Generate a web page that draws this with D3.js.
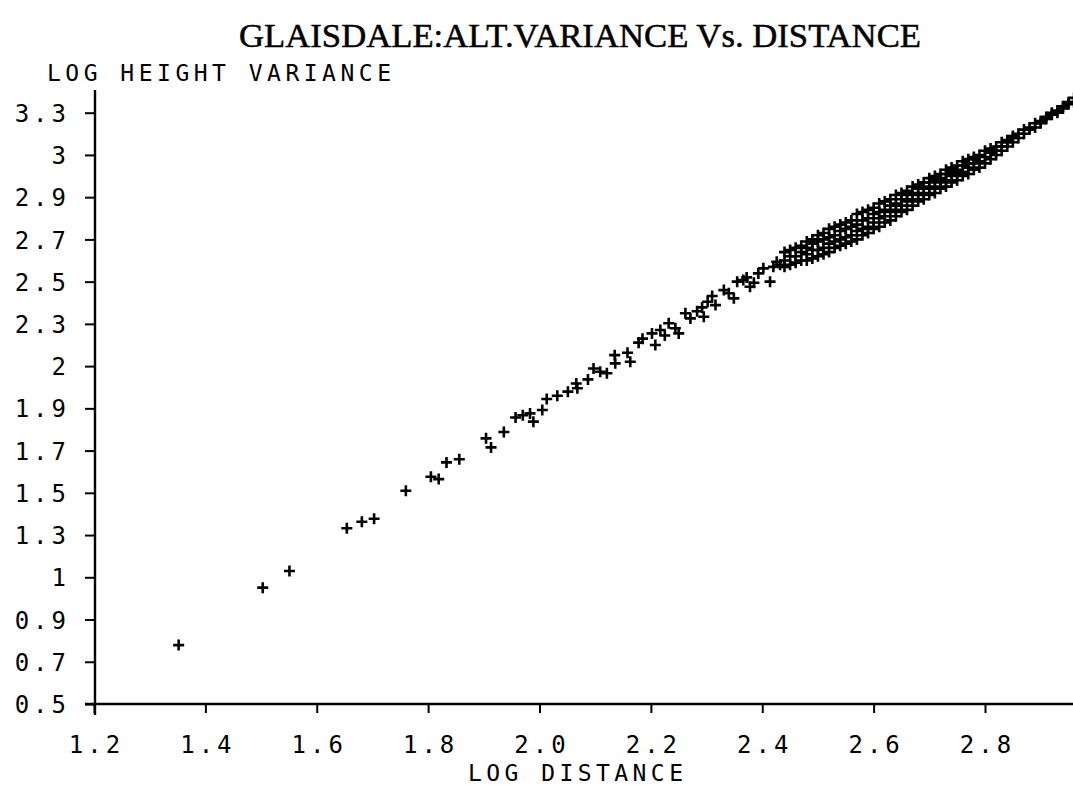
<!DOCTYPE html>
<html>
<head>
<meta charset="utf-8">
<script src="https://cdn.jsdelivr.net/npm/d3@7"></script>
<style>
  html, body { margin: 0; padding: 0; background: #fff; }
  svg { display: block; }
  .lbl { font-family: "DejaVu Sans Mono", monospace; font-size: 24px; fill: #000; letter-spacing: 4px; }
</style>
</head>
<body>
<svg id="chart" width="1073" height="785"></svg>
<script>
// ---------- data ----------
const chartTitle = "GLAISDALE:ALT.VARIANCE Vs. DISTANCE";
const yAxisTitle = "LOG HEIGHT VARIANCE";
const xAxisTitle = "LOG DISTANCE";

const xTickValues = [1.2, 1.4, 1.6, 1.8, 2.0, 2.2, 2.4, 2.6, 2.8];
const xTickLabels = ["1.2", "1.4", "1.6", "1.8", "2.0", "2.2", "2.4", "2.6", "2.8"];
const yTickValues = [0.5, 0.7, 0.9, 1.1, 1.3, 1.5, 1.7, 1.9, 2.1, 2.3, 2.5, 2.7, 2.9, 3.1, 3.3];
const yTickLabels = ["0.5", "0.7", "0.9", "1", "1.3", "1.5", "1.7", "1.9", "2", "2.3", "2.5", "2.7", "2.9", "3", "3.3"];

// individual points: [log distance, log height variance]
const sparsePoints = [
  [1.352,0.779],[1.503,1.051],[1.551,1.130],[1.654,1.332],[1.681,1.363],[1.703,1.377],
  [1.760,1.510],[1.805,1.576],[1.819,1.565],[1.833,1.644],[1.856,1.659],[1.904,1.758],
  [1.913,1.715],[1.936,1.788],[1.957,1.857],[1.970,1.867],[1.983,1.876],[1.989,1.837],
  [2.005,1.892],[2.013,1.944],[2.032,1.960],[2.051,1.979],[2.066,2.018],[2.068,1.995],
  [2.087,2.037],[2.097,2.089],[2.109,2.073],[2.121,2.066],[2.135,2.152],[2.136,2.113],
  [2.158,2.163],[2.163,2.121],[2.178,2.211],[2.185,2.230],[2.202,2.255],[2.208,2.200],
  [2.217,2.271],[2.225,2.245],[2.232,2.303],[2.244,2.279],[2.250,2.255],[2.262,2.350],
  [2.271,2.326],[2.283,2.360],[2.292,2.378],[2.295,2.334],[2.302,2.405],[2.310,2.432],
  [2.316,2.389],[2.331,2.460],[2.340,2.445],[2.349,2.421],[2.355,2.500],[2.366,2.508],
  [2.372,2.520],[2.378,2.476],[2.385,2.495],[2.393,2.539],[2.402,2.563],[2.414,2.500],
  [2.420,2.570],[2.426,2.594],[2.432,2.580]
];

// dense part of the cloud: [log distance, [log height variance values at that distance]]
const denseColumns = [
  [2.44,[2.57,2.60,2.64]],
  [2.45,[2.58,2.62,2.65]],
  [2.46,[2.59,2.62,2.66]],
  [2.47,[2.60,2.64,2.67]],
  [2.48,[2.60,2.63,2.66,2.69]],
  [2.49,[2.61,2.65,2.68,2.70]],
  [2.50,[2.62,2.65,2.69,2.72]],
  [2.51,[2.63,2.66,2.70,2.73]],
  [2.52,[2.64,2.68,2.71,2.75]],
  [2.53,[2.66,2.69,2.72,2.76]],
  [2.54,[2.67,2.70,2.74,2.77]],
  [2.55,[2.68,2.71,2.75,2.78]],
  [2.56,[2.69,2.72,2.76,2.79]],
  [2.57,[2.70,2.74,2.77,2.82]],
  [2.58,[2.72,2.75,2.79,2.83]],
  [2.59,[2.73,2.76,2.80,2.84]],
  [2.60,[2.75,2.78,2.82,2.85]],
  [2.61,[2.76,2.80,2.83,2.87]],
  [2.62,[2.78,2.81,2.84,2.88]],
  [2.63,[2.79,2.83,2.86,2.89]],
  [2.64,[2.81,2.84,2.87,2.91]],
  [2.65,[2.83,2.86,2.89,2.92]],
  [2.66,[2.84,2.88,2.91,2.93]],
  [2.67,[2.86,2.89,2.92,2.95]],
  [2.68,[2.88,2.91,2.94,2.96]],
  [2.69,[2.89,2.92,2.95,2.97]],
  [2.70,[2.91,2.94,2.97,2.99]],
  [2.71,[2.92,2.95,2.98,3.00]],
  [2.72,[2.94,2.97,2.99,3.01]],
  [2.73,[2.95,2.98,3.01,3.03]],
  [2.74,[2.97,3.00,3.02,3.04]],
  [2.75,[2.98,3.01,3.03,3.05]],
  [2.76,[3.00,3.02,3.05,3.07]],
  [2.77,[3.01,3.04,3.06,3.08]],
  [2.78,[3.03,3.06,3.08,3.09]],
  [2.79,[3.04,3.07,3.10]],
  [2.80,[3.06,3.09,3.12]],
  [2.81,[3.08,3.11,3.13]],
  [2.82,[3.10,3.12,3.14]],
  [2.83,[3.12,3.14,3.16]],
  [2.84,[3.14,3.16,3.17]],
  [2.85,[3.16,3.18,3.19]],
  [2.86,[3.18,3.20]],
  [2.87,[3.20,3.22]],
  [2.88,[3.22,3.23]],
  [2.89,[3.23,3.25]],
  [2.90,[3.25,3.26]],
  [2.91,[3.27,3.28]],
  [2.92,[3.29,3.30]],
  [2.93,[3.30,3.31]],
  [2.94,[3.32,3.33]],
  [2.95,[3.34,3.35]],
  [2.96,[3.35,3.37]]
];

// ---------- drawing ----------
const svg = d3.select("#chart");
const W = 1073, H = 785;

const x = d3.scaleLinear().domain([1.2, 2.8]).range([94, 985]);
const y = d3.scaleLinear().domain([0.5, 3.3]).range([704, 112.7]);

const ink = "#000";

// title
svg.append("text")
  .attr("x", 239).attr("y", 47)
  .attr("textLength", 682).attr("lengthAdjust", "spacingAndGlyphs")
  .style("font-family", '"Liberation Serif", serif')
  .style("font-size", "34px")
  .style("fill", ink)
  .style("stroke", ink).style("stroke-width", 0.5)
  .text(chartTitle);

// y axis title
svg.append("text").attr("class", "lbl")
  .attr("x", 47).attr("y", 81)
  .attr("textLength", 348).attr("lengthAdjust", "spacing")
  .style("font-size", "23px")
  .text(yAxisTitle);

// x axis title
svg.append("text").attr("class", "lbl")
  .attr("x", 468).attr("y", 781)
  .attr("textLength", 219).attr("lengthAdjust", "spacing")
  .style("font-size", "23px")
  .text(xAxisTitle);

// axes spines
const x0 = x(1.2);
svg.append("line").attr("x1", 85).attr("x2", W).attr("y1", y(0.5)).attr("y2", y(0.5))
  .attr("stroke", ink).attr("stroke-width", 2.4);
svg.append("line").attr("x1", x0 + 1).attr("x2", x0 + 1).attr("y1", 90).attr("y2", 715)
  .attr("stroke", ink).attr("stroke-width", 2.4);

// y axis ticks
const yAxis = d3.axisLeft(y).tickValues(yTickValues).tickSize(10).tickPadding(0)
  .tickFormat((d, i) => yTickLabels[i]);
const gy = svg.append("g").attr("transform", `translate(${x0 + 1},0)`).call(yAxis);
gy.select(".domain").remove();
gy.selectAll(".tick line").attr("stroke", ink).attr("stroke-width", 2);
gy.selectAll(".tick text").attr("class", "lbl").attr("x", -25).attr("dy", "0.36em")
  .style("font-size", "24px").attr("text-anchor", "end");

// x axis ticks
const xAxis = d3.axisBottom(x).tickValues(xTickValues).tickSize(9).tickPadding(0)
  .tickFormat((d, i) => xTickLabels[i]);
const gx = svg.append("g").attr("transform", `translate(0,${y(0.5)})`).call(xAxis);
gx.select(".domain").remove();
gx.selectAll(".tick line").attr("stroke", ink).attr("stroke-width", 2);
gx.selectAll(".tick text").attr("class", "lbl").attr("y", 49).attr("dy", 0).attr("dx", 2)
  .style("font-size", "24px").attr("text-anchor", "middle");

// markers
const densePoints = denseColumns.flatMap(([dx, ys]) => ys.map(v => [dx, v]));
const allPoints = sparsePoints.concat(densePoints);
const plus = "M-5.5,0H5.5M0,-5.5V5.5";
svg.append("g").selectAll("path").data(allPoints).join("path")
  .attr("transform", d => `translate(${x(d[0])},${y(d[1])})`)
  .attr("d", plus)
  .attr("fill", "none")
  .attr("stroke", ink)
  .attr("stroke-width", 2.6);
</script>
</body>
</html>
